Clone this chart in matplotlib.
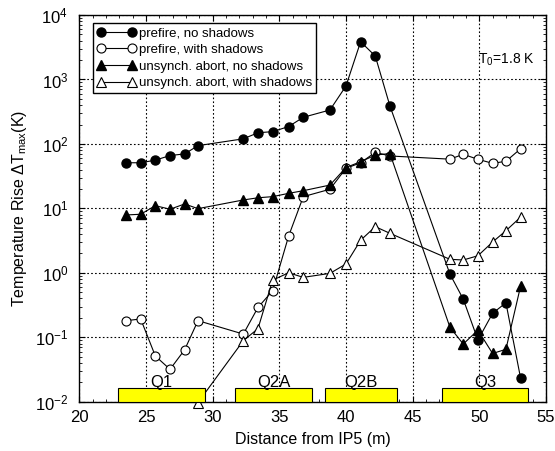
import matplotlib
matplotlib.use("Agg")
import matplotlib.pyplot as plt
from matplotlib.patches import Rectangle
from matplotlib.ticker import MultipleLocator, LogLocator, NullFormatter

plt.rcParams['font.family'] = ['Liberation Sans', 'DejaVu Sans']
plt.rcParams['mathtext.fontset'] = 'custom'
plt.rcParams['mathtext.rm'] = 'Liberation Sans'
plt.rcParams['mathtext.it'] = 'Liberation Sans:italic'

# positions (m)
x_all = [23.5, 24.6, 25.7, 26.8, 27.9, 28.9, 32.3, 33.4, 34.5, 35.7, 36.8,
         38.8, 40.0, 41.1, 42.2, 43.3, 47.8, 48.8, 49.9, 51.0, 52.0, 53.1]

prefire_no = [51, 51, 56, 66, 70, 94, 120, 149, 155, 186, 259,
              336, 791, 3850, 2310, 387, 0.957, 0.39, 0.0906, 0.235, 0.343, 0.0233]
prefire_with = [0.181, 0.192, 0.0512, 0.0318, 0.064, 0.181, 0.112, 0.29, 0.527, 3.72, 15.2,
                19.8, 41.8, 51, 74, 65, 58, 69, 57.7, 50, 53.7, 84]
abort_no = [7.9, 8.1, 11, 9.7, 11.7, 9.9, 13.5, 14.6, 15.2, 17.1, 18.8,
            23, 43, 53, 67, 71, 0.143, 0.0785, 0.129, 0.056, 0.065, 0.62]
x_abort_with = x_all[5:]
abort_with = [0.0097, 0.0885, 0.136, 0.77, 1.0, 0.85,
              0.98, 1.37, 3.2, 5.2, 4.1, 1.62, 1.58, 1.84, 3.0, 4.5, 7.3]

# magnets
magnet_names = ['Q1', 'Q2A', 'Q2B', 'Q3']
magnet_start = [22.93, 31.68, 38.43, 47.23]
magnet_end = [29.43, 37.46, 43.8, 53.68]

fig = plt.figure(figsize=(5.55, 4.51), dpi=100)
ax = fig.add_axes([0.143, 0.1093, 0.8406, 0.8574])
ax.set_yscale('log')
ax.set_xlim(20, 55)
ax.set_ylim(1e-2, 1e4)

lw = 0.8
ms = 6.5
ax.plot(x_all, prefire_no, '-o', color='black', mfc='black', mec='black', lw=lw, ms=ms,
        label='prefire, no shadows', clip_on=False, zorder=3)
ax.plot(x_all, prefire_with, '-o', color='black', mfc='white', mec='black', mew=0.8, lw=lw, ms=ms,
        label='prefire, with shadows', clip_on=False, zorder=3)
ax.plot(x_all, abort_no, '-^', color='black', mfc='black', mec='black', lw=lw, ms=ms,
        label='unsynch. abort, no shadows', clip_on=False, zorder=3)
ax.plot(x_abort_with, abort_with, '-^', color='black', mfc='white', mec='black', mew=0.8, lw=lw, ms=ms,
        label='unsynch. abort, with shadows', clip_on=False, zorder=3)

for name, s, e in zip(magnet_names, magnet_start, magnet_end):
    ax.add_patch(Rectangle((s, 0.01), e - s, 0.0061, facecolor='#ffff00',
                           edgecolor='black', lw=0.8, zorder=5, clip_on=False))
    ax.text((s + e) / 2, 0.0152, name, ha='center', va='bottom', fontsize=12, zorder=6)

ax.text(54.2, 2000, r'T$_0$=1.8 K', ha='right', va='center', fontsize=10)

ax.xaxis.set_major_locator(MultipleLocator(5))
ax.xaxis.set_minor_locator(MultipleLocator(1))
ax.yaxis.set_major_locator(LogLocator(base=10, numticks=20))
ax.yaxis.set_minor_locator(LogLocator(base=10, subs=range(2, 10), numticks=20))
ax.yaxis.set_minor_formatter(NullFormatter())
ax.tick_params(which='both', direction='in', top=True, right=True)
ax.tick_params(which='major', length=4, labelsize=12)
ax.tick_params(axis='x', which='major', pad=6)
ax.tick_params(axis='y', which='major', pad=8)
ax.tick_params(which='minor', length=2)
ax.grid(True, which='major', linestyle=(0, (1.5, 2)), color='black', lw=0.8)
for sp in ax.spines.values():
    sp.set_linewidth(1.0)

ax.set_xlabel('Distance from IP5 (m)', fontsize=11.5, labelpad=5)
ax.set_ylabel(r'Temperature Rise $\Delta$T$_{\mathrm{max}}$(K)', fontsize=11.5, labelpad=4)

leg = ax.legend(loc='upper left', bbox_to_anchor=(0.029, 0.9785), fontsize=9.5, frameon=True,
                fancybox=False, edgecolor='black', framealpha=1, numpoints=2, markerscale=1.0,
                handlelength=3.0, handletextpad=0.2, borderpad=0.3, labelspacing=0.33,
                borderaxespad=0)
leg.get_frame().set_linewidth(1.0)

fig.savefig('out.png', dpi=100)
